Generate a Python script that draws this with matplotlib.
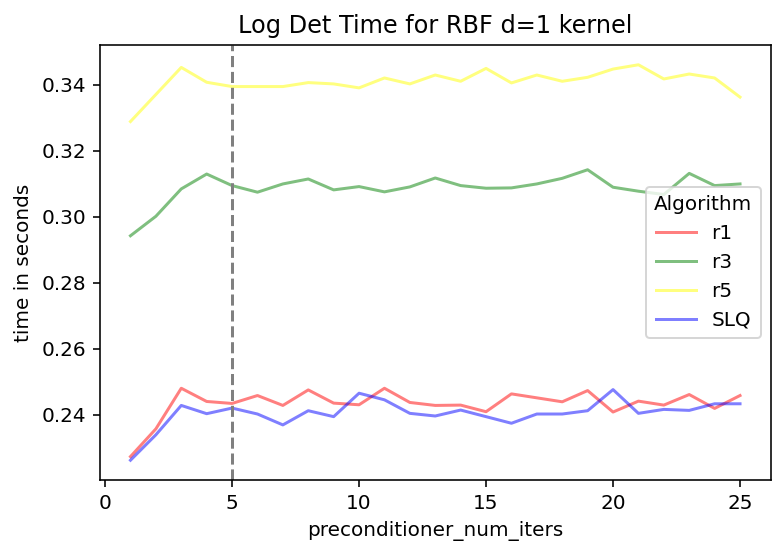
import matplotlib
matplotlib.use("Agg")
import matplotlib.pyplot as plt

iters = list(range(1, 26))

r1 = [0.2273, 0.2357, 0.2480, 0.2440, 0.2434, 0.2458, 0.2428, 0.2475, 0.2435, 0.2430,
      0.2480, 0.2437, 0.2428, 0.2429, 0.2409, 0.2463, 0.2451, 0.2439, 0.2473, 0.2408,
      0.2441, 0.2429, 0.2461, 0.2419, 0.2458]
r3 = [0.2942, 0.3001, 0.3084, 0.3129, 0.3094, 0.3074, 0.3099, 0.3114, 0.3081, 0.3091,
      0.3075, 0.3090, 0.3117, 0.3094, 0.3086, 0.3087, 0.3099, 0.3116, 0.3142, 0.3089,
      0.3077, 0.3067, 0.3131, 0.3094, 0.3099]
r5 = [0.3288, 0.3370, 0.3452, 0.3407, 0.3394, 0.3394, 0.3394, 0.3406, 0.3402, 0.3390,
      0.3420, 0.3402, 0.3429, 0.3410, 0.3449, 0.3405, 0.3429, 0.3410, 0.3422, 0.3447,
      0.3460, 0.3417, 0.3432, 0.3420, 0.3362]
slq = [0.2262, 0.2339, 0.2428, 0.2403, 0.2420, 0.2402, 0.2369, 0.2412, 0.2394, 0.2465,
       0.2445, 0.2404, 0.2396, 0.2414, 0.2394, 0.2374, 0.2402, 0.2402, 0.2412, 0.2476,
       0.2404, 0.2416, 0.2413, 0.2433, 0.2433]

series = {"r1": (r1, "red"), "r3": (r3, "green"), "r5": (r5, "yellow"), "SLQ": (slq, "blue")}

fig = plt.figure(figsize=(783 / 144, 555 / 144), dpi=144)
ax = fig.add_axes([100 / 783, 1 - 480 / 555, 670.5 / 783, 435 / 555])

for name, (vals, col) in series.items():
    ax.plot(iters, vals, color=col, alpha=0.5, label=name)

# chosen preconditioner size
ax.axvline(5, color="gray", linestyle="--")

ax.set_xlabel("preconditioner_num_iters")
ax.set_ylabel("time in seconds")
ax.set_title("Log Det Time for RBF d=1 kernel")
ax.legend(title="Algorithm", loc="center right")

fig.savefig("out.png", dpi=144)
